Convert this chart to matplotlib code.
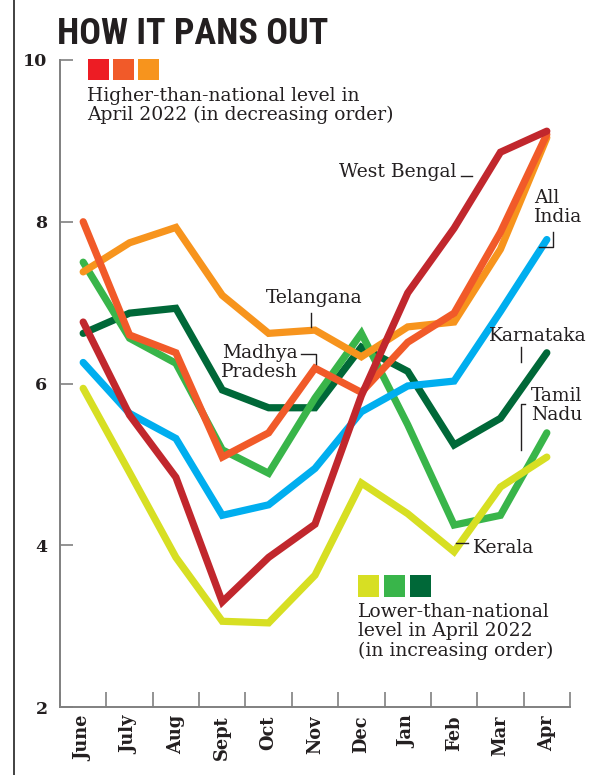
import matplotlib
matplotlib.use("Agg")
import matplotlib.pyplot as plt
from matplotlib.lines import Line2D
from matplotlib.patches import Rectangle

months = ["June", "July", "Aug", "Sept", "Oct", "Nov", "Dec", "Jan", "Feb", "Mar", "Apr"]

west_bengal = [6.76, 5.61, 4.84, 3.30, 3.85, 4.26, 5.85, 7.12, 7.92, 8.86, 9.12]
madhya_pradesh = [8.00, 6.60, 6.38, 5.09, 5.39, 6.19, 5.89, 6.51, 6.87, 7.87, 9.08]
telangana = [7.38, 7.74, 7.93, 7.09, 6.62, 6.66, 6.33, 6.70, 6.76, 7.66, 9.04]
all_india = [6.26, 5.63, 5.32, 4.37, 4.50, 4.95, 5.65, 5.97, 6.03, 6.89, 7.78]
karnataka = [6.62, 6.87, 6.93, 5.92, 5.70, 5.70, 6.45, 6.15, 5.24, 5.57, 6.38]
tamil_nadu = [7.50, 6.56, 6.25, 5.18, 4.89, 5.82, 6.62, 5.49, 4.25, 4.37, 5.39]
kerala = [5.94, 4.90, 3.85, 3.06, 3.04, 3.63, 4.77, 4.39, 3.92, 4.72, 5.09]

RED = "#c1272d"
ORED = "#f15a29"
ORANGE = "#f7941d"
BLUE = "#00aeef"
DKGREEN = "#006838"
GREEN = "#39b54a"
YELLOW = "#d7df23"
INK = "#231f20"
GREY = "#808080"

SERIF = "DejaVu Serif"


def main() -> None:
    fig = plt.figure(figsize=(6.05, 7.75), dpi=100)
    ax = fig.add_axes([60 / 605, 68 / 775, 510 / 605, 647 / 775])

    x = list(range(len(months)))
    series = [
        (karnataka, DKGREEN),
        (tamil_nadu, GREEN),
        (kerala, YELLOW),
        (all_india, BLUE),
        (telangana, ORANGE),
        (madhya_pradesh, ORED),
        (west_bengal, RED),
    ]
    for values, color in series:
        ax.plot(x, values, color=color, linewidth=5.2,
                solid_capstyle="round", solid_joinstyle="miter")

    ax.set_xlim(-0.5, 10.5)
    ax.set_ylim(2, 10)

    for side in ("top", "right"):
        ax.spines[side].set_visible(False)
    for side in ("left", "bottom"):
        ax.spines[side].set_color(GREY)
        ax.spines[side].set_linewidth(1.4)

    ax.set_yticks([2, 4, 6, 8, 10])
    ax.set_yticklabels(["2", "4", "6", "8", "10"], fontfamily=SERIF,
                       fontweight="bold", fontsize=12.5, color=INK)
    ax.tick_params(axis="y", direction="in", length=9, width=1.2,
                   color=GREY, pad=9)

    ax.set_xticks(x)
    ax.set_xticklabels(months, rotation=90, fontfamily=SERIF,
                       fontweight="bold", fontsize=12.8, color=INK)
    ax.tick_params(axis="x", which="major", length=0, pad=6)
    ax.set_xticks([i + 0.5 for i in range(-1, len(months))], minor=True)
    ax.tick_params(axis="x", which="minor", direction="in", length=11,
                   width=1.2, color=GREY)

    txt = dict(fontfamily=SERIF, fontsize=13.5, color=INK)
    lead = dict(color=INK, linewidth=1.0, clip_on=False)

    ax.text(8.04, 8.61, "West Bengal", ha="right", va="center", **txt)
    ax.plot([8.15, 8.39], [8.57, 8.57], **lead)

    ax.text(4.98, 7.06, "Telangana", ha="center", va="center", **txt)
    ax.plot([4.91, 4.91], [6.87, 6.70], **lead)

    ax.text(4.63, 6.26, "Madhya\nPradesh", ha="right", va="center",
            linespacing=1.05, **txt)
    ax.plot([4.70, 5.02, 5.02], [6.36, 6.36, 6.24], **lead)

    ax.text(9.72, 8.18, "All\nIndia", ha="left", va="center",
            linespacing=1.05, **txt)
    ax.plot([10.13, 10.13, 9.83], [7.87, 7.69, 7.69], **lead)

    ax.text(8.75, 6.59, "Karnataka", ha="left", va="center", **txt)
    ax.plot([9.44, 9.44], [6.45, 6.26], **lead)

    ax.text(9.66, 5.73, "Tamil\nNadu", ha="left", va="center",
            linespacing=1.05, **txt)
    ax.plot([9.53, 9.44, 9.44], [5.75, 5.75, 5.18], **lead)

    ax.text(8.41, 3.97, "Kerala", ha="left", va="center", **txt)
    ax.plot([8.04, 8.30], [4.03, 4.03], **lead)

    # colour keys
    for i, c in enumerate(["#ed1c24", ORED, ORANGE]):
        ax.add_patch(Rectangle((0.11 + i * 0.54, 9.75), 0.45, 0.26,
                               color=c, clip_on=False, linewidth=0))
    ax.text(0.086, 9.67, "Higher-than-national level in\nApril 2022 (in decreasing order)",
            ha="left", va="top", linespacing=1.1, **txt)

    for i, c in enumerate([YELLOW, GREEN, DKGREEN]):
        ax.add_patch(Rectangle((5.93 + i * 0.56, 3.36), 0.45, 0.27,
                               color=c, clip_on=False, linewidth=0))
    ax.text(5.93, 3.29, "Lower-than-national\nlevel in April 2022\n(in increasing order)",
            ha="left", va="top", linespacing=1.1, **txt)

    fig.text(57 / 605, 1 - 44 / 775, "HOW IT PANS OUT", ha="left",
             va="baseline", fontsize=26, fontweight="bold", color=INK,
             fontstretch="condensed",
             family=["Roboto Condensed", "Open Sans Condensed",
                     "DejaVu Sans Condensed", "Liberation Sans"])

    fig.add_artist(Line2D([14 / 605, 14 / 605], [0, 1], color="#333333",
                          linewidth=1.3))

    fig.savefig("out.png", dpi=100)
    plt.close(fig)


if __name__ == "__main__":
    main()
